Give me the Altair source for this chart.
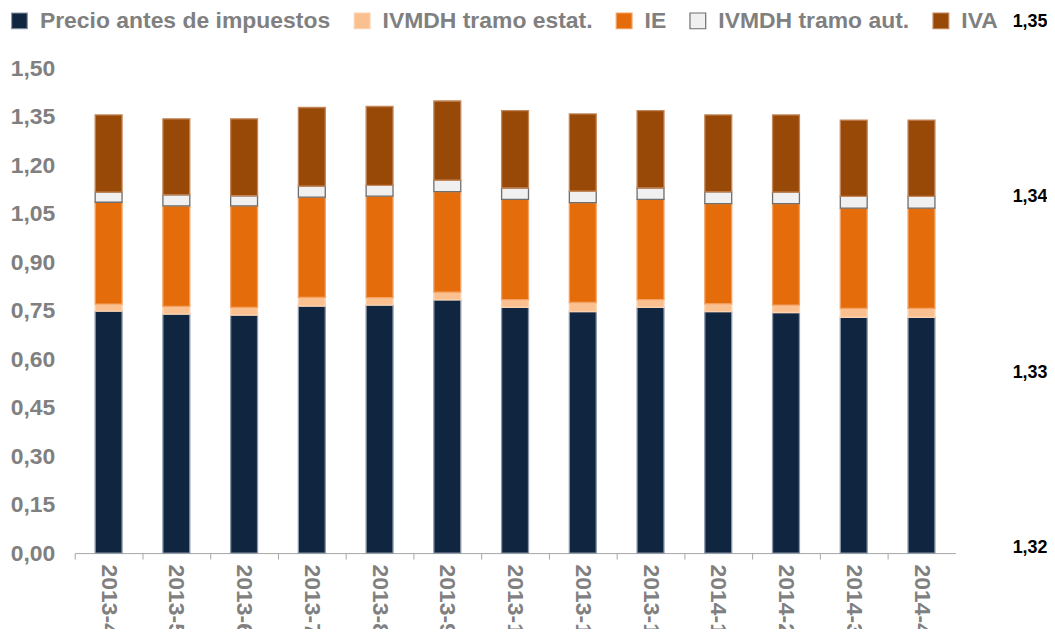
import altair as alt
import pandas as pd

meses = ["2013-4", "2013-5", "2013-6", "2013-7", "2013-8", "2013-9", "2013-10",
         "2013-11", "2013-12", "2014-1", "2014-2", "2014-3", "2014-4"]

series = ["Precio antes de impuestos", "IVMDH tramo estat.", "IE", "IVMDH tramo aut.", "IVA"]

precio = [0.748, 0.739, 0.736, 0.764, 0.767, 0.783, 0.760, 0.747, 0.760, 0.747, 0.744, 0.729, 0.729]
ivmdh_estat = [0.022, 0.024, 0.024, 0.027, 0.023, 0.024, 0.024, 0.028, 0.024, 0.024, 0.023, 0.028, 0.028]
ie = [0.315, 0.311, 0.314, 0.310, 0.314, 0.311, 0.310, 0.309, 0.310, 0.310, 0.314, 0.310, 0.310]
ivmdh_aut = [0.031, 0.034, 0.031, 0.034, 0.033, 0.035, 0.035, 0.035, 0.035, 0.036, 0.035, 0.036, 0.036]
iva = [0.239, 0.235, 0.238, 0.243, 0.244, 0.245, 0.239, 0.239, 0.239, 0.238, 0.239, 0.236, 0.236]

left_ticks = [0.0, 0.15, 0.30, 0.45, 0.60, 0.75, 0.90, 1.05, 1.20, 1.35, 1.50]
right_ticks = [1.32, 1.33, 1.34, 1.35]

fills = ["#10253f", "#fac090", "#e46c0a", "#f0f0f0", "#984807"]
strokes = ["#8a97a8", "#fcd3b0", "#f3a264", "#6e6e6e", "#c2865a"]

rows = []
for serie_idx, (name, vals) in enumerate(zip(series, [precio, ivmdh_estat, ie, ivmdh_aut, iva])):
    for m, v in zip(meses, vals):
        rows.append({"mes": m, "serie": name, "valor": v, "orden": serie_idx})
df = pd.DataFrame(rows)
df_right = pd.DataFrame({"v": right_ticks})

label_font = "Liberation Sans"
gray = "#808080"
fmt = "replace(format(datum.value, '.2f'), '.', ',')"

legend_cfg = dict(title=None, orient="none", direction="horizontal",
                  columns=5, legendX=-67, legendY=-12,
                  symbolType="square", symbolSize=250,
                  symbolStrokeWidth=1.2,
                  labelFont=label_font, labelFontSize=23,
                  labelFontWeight="bold", labelColor=gray,
                  labelOffset=9, columnPadding=20,
                  labelLimit=400)

bars = alt.Chart(df).mark_bar(width=27, strokeWidth=1.3).encode(
    x=alt.X("mes:N", sort=meses,
            scale=alt.Scale(paddingInner=0, paddingOuter=0),
            axis=alt.Axis(title=None, labelAngle=90, bandPosition=0,
                          labelFont=label_font, labelFontSize=23, labelFontWeight="bold",
                          labelColor=gray, domainColor="#a6a6a6", tickColor="#a6a6a6",
                          tickSize=6, labelPadding=5, grid=False)),
    y=alt.Y("valor:Q", stack="zero",
            scale=alt.Scale(domain=[0, 1.645], nice=False, zero=True),
            axis=alt.Axis(title=None, values=left_ticks, labelExpr=fmt,
                          labelFont=label_font, labelFontSize=23, labelFontWeight="bold",
                          labelColor=gray, domain=False, ticks=False, grid=False,
                          labelPadding=20)),
    color=alt.Color("serie:N", sort=series,
                    scale=alt.Scale(domain=series, range=fills),
                    legend=alt.Legend(**legend_cfg)),
    stroke=alt.Stroke("serie:N", sort=series,
                      scale=alt.Scale(domain=series, range=strokes),
                      legend=alt.Legend(**legend_cfg)),
    order=alt.Order("orden:Q", sort="ascending"),
)

right = alt.Chart(df_right).mark_point(opacity=0).encode(
    y=alt.Y("v:Q", scale=alt.Scale(domain=[1.3197, 1.35], nice=False, zero=False),
            axis=alt.Axis(title=None, orient="right", values=right_ticks, labelExpr=fmt,
                          labelFont=label_font, labelFontSize=18, labelFontWeight="bold",
                          labelColor="black", domain=False, ticks=False, grid=False,
                          labelPadding=57))
)

chart = alt.layer(bars, right).resolve_scale(y="independent").properties(
    width=884, height=534,
    autosize=alt.AutoSizeParams(type="none"),
    padding={"left": 67, "top": 12, "right": 92, "bottom": 75},
    background="white",
).configure_view(stroke=None)

chart.save("out.html", embed_options={"renderer": "svg", "actions": False})
